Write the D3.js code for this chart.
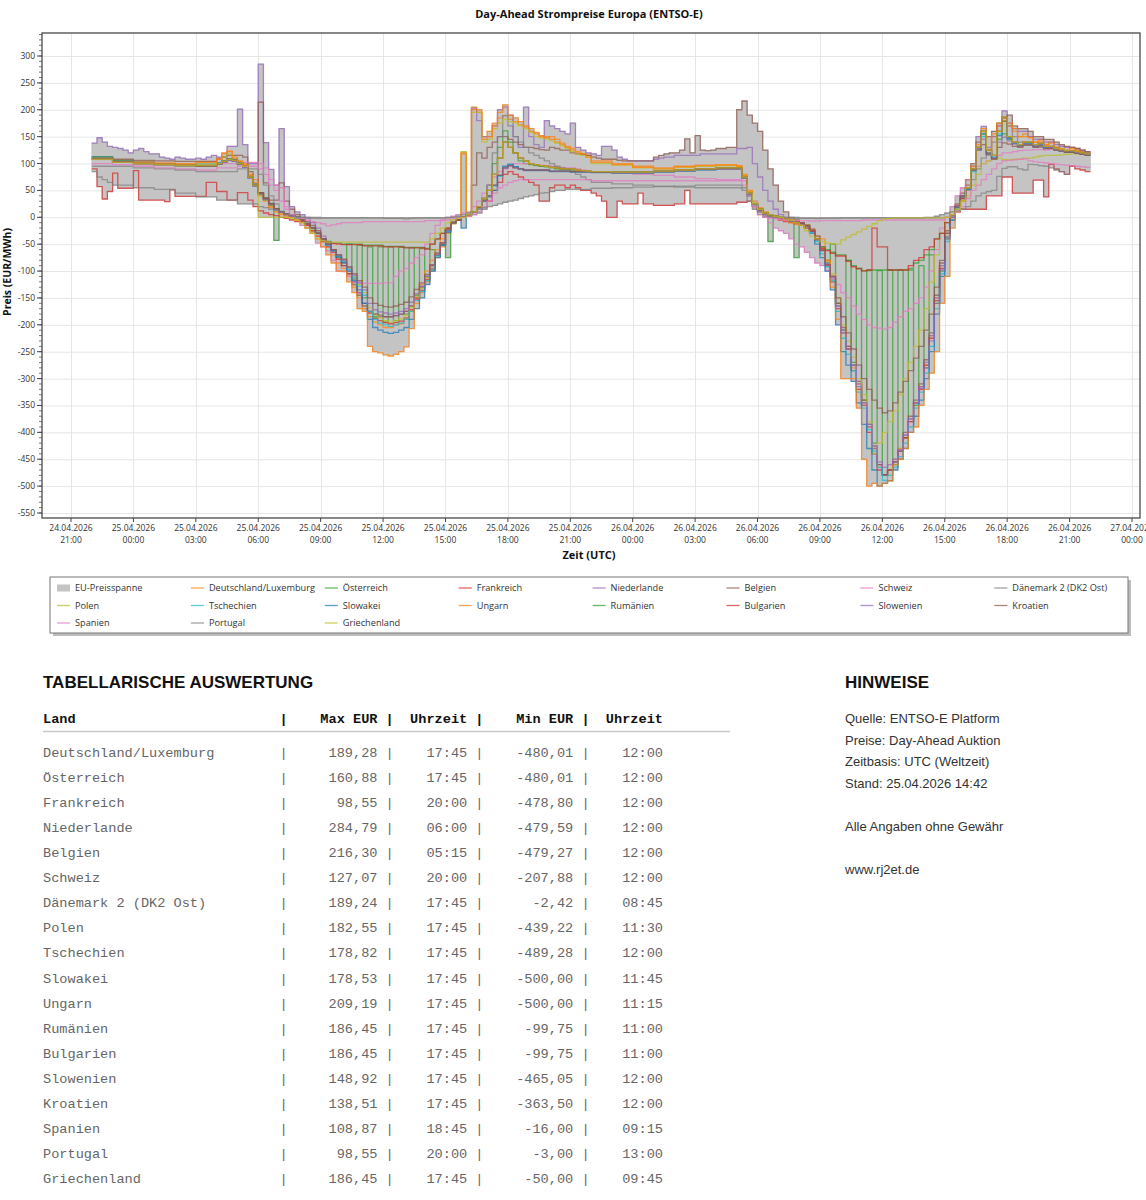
<!DOCTYPE html>
<html>
<head>
<meta charset="utf-8">
<script src="https://cdn.jsdelivr.net/npm/d3@7/dist/d3.min.js"></script>
<style>
html,body{margin:0;padding:0;background:#fff;}
.sans{font-family:"Open Sans","Noto Sans",sans-serif;}
.arial{font-family:"Liberation Sans",Arial,sans-serif;}
.mono{font-family:"Liberation Mono","Courier New",monospace;white-space:pre;}
</style>
</head>
<body>
<svg id="chart" width="1146" height="1200" xmlns="http://www.w3.org/2000/svg"></svg>
<script>
// ---------------- DATA ----------------
// Hourly values from 24.04.2026 22:00 UTC (48 hours); an inner array gives the four quarter-hour values.
const countries = ["Deutschland/Luxemburg","Österreich","Frankreich","Niederlande","Belgien","Schweiz","Dänemark 2 (DK2 Ost)","Polen","Tschechien","Slowakei","Ungarn","Rumänien","Bulgarien","Slowenien","Kroatien","Spanien","Portugal","Griechenland"];
const seriesColors = ["#ff7f0e","#2ca02c","#d62728","#9467bd","#8c564b","#e377c2","#7f7f7f","#bcbd22","#17becf","#1f77b4","#ff7f0e","#2ca02c","#d62728","#9467bd","#8c564b","#e377c2","#7f7f7f","#bcbd22"];

const DE = [112,105,103,101,100,103,[110,118,122,110],[105,100,80,70],[45,35,20,12],[8,5,2,-2],[-8,-15,-25,-35],[-45,-55,-70,-85],[-95,-110,-130,-150],[-170,-185,-195,-200],[-205,-205,-200,-198],[-190,-175,-160,-140],[-120,-100,-75,-55],[-30,-12,-5,120],[5,200,195,150],[160,175,185,189.28],[182,178,172,168],[160,155,152,150],[145,140,135,130],[125,120,118,115],105,100,95,92,95,97,98,[96,80,50,30],[18,10,5,2],[0,-5,-8,-10],[-12,-15,-22,-35],[-55,-80,-110,-160],[-210,-245,-280,-310],[-345,-390,-430,-465],[-480.01,-470,-450,-430],[-410,-380,-345,-315],[-275,-220,-150,-90],[-35,0,20,40],[60,90,130,160],[120,150,170,185],[170,160,150,155],[150,140,145,135],[140,130,128,125],[130,125,122,120]];
const AT = [113,106,102,100,98,99,[100,104,108,106],[100,95,75,60],[42,32,22,-43],[10,6,3,0],[-5,-12,-20,-30],[-40,-50,-60,-75],[-85,-50,-115,-52],[-150,-55,-185,-55],[-195,-55,-192,-56],[-180,-57,-145,-58],[-112,-60,-70,-50],[-75,-10,-5,0],[5,10,20,35],[60,100,130,160.88],[140,120,105,100],[98,96,95,94],[92,90,88,88],[87,86,85,85],85,84,84,86,88,90,92,[92,75,45,25],[15,8,-45,2],[0,-3,-5,-75],[-10,-15,-25,-40],[-60,-85,-50,-160],[-210,-80,-270,-95],[-340,-99,-420,-99],[-480.01,-98,-460,-98],[-410,-98,-350,-90],[-280,-70,-160,-100],[-40,0,20,40],[55,90,130,155],[120,110,145,155],[145,138,132,136],[136,132,134,130],[130,126,124,122],[122,120,118,116]];
const FR = [[90,57,34,48],[82,54,54,54],[87,32,32,32],[32,32,29,51],39,[39,39,65,65],[48,48,32,32],[46,46,32,20],[12,8,5,3],[0,-2,-5,-8],[-8,-15,-25,-35],[-45,-55,-65,-78],[-90,-105,-120,-140],[-160,-178,-188,-192],[-196,-198,-196,-193],[-187,-172,-152,-136],[-116,-96,-71,-51],[-25,-10,-5,0],[5,10,20,30],[30,50,65,80],[85,80,75,70],[65,60,30,30],[55,60,60,55],[60,55,50,50],[45,40,30,0],[0,30,25,25],[25,45,25,25],22,[25,25,50,25],25,25,[28,28,30,20],[10,5,2,0],[-5,-8,-10,-12],[-15,-20,-25,-40],[-60,-90,-120,-170],[-215,-245,-285,-320],[-350,-400,-440,-470],[-478.8,-470,-455,-435],[-410,-380,-345,-320],[-275,-225,-155,-95],[-30,0,10,15],15,[40,40,40,75],[75,45,45,45],[45,69,69,38],[98.55,90,85,80],[95,90,88,85]];
const NL = [[138,148,140,132],[130,128,125,120],[125,128,122,118],[118,112,110,108],[112,110,108,108],[110,108,112,115],[112,112,132,132],[201,135,100,100],[284.79,139,89,60],[165,57,20,10],[5,0,-10,-20],[-35,-50,-60,-70],[-85,-100,-120,-140],[-160,-175,-180,-185],[-185,-185,-183,-180],[-175,-165,-150,-130],[-110,-90,-70,-50],[-25,-10,-5,0],[5,203,180,150],[150,170,200,205],[190,150,130,205],[150,135,130,180],[170,165,160,155],[175,130,125,120],[118,115,132,132],[125,112,108,105],105,[108,110,112,112],115,[115,118,118,118],118,[128,128,130,100],[75,50,30,15],[5,0,-5,-8],[-12,-18,-25,-40],[-60,-85,-115,-165],[-210,-240,-275,-310],[-345,-390,-430,-460],[-479.59,-470,-455,-435],[-405,-375,-345,-315],[-270,-220,-150,-90],[-30,5,20,40],[60,95,150,169],[130,150,170,198],[175,165,160,160],[150,145,145,140],[140,135,132,130],[130,128,125,122]];
const BE = [110,108,106,105,104,104,[108,112,115,115],[115,112,85,60],[214,64,32,32],[64,30,15,5],[0,-8,-15,-25],[-40,-52,-62,-72],[-90,-105,-125,-145],[-165,-175,-180,-182],[-185,-185,-183,-180],[-175,-165,-150,-130],[-110,-90,-70,-50],[-25,-10,-5,0],[5,60,120,110],[130,140,150,150],[145,140,135,130],[130,128,126,125],[130,128,125,125],[120,118,117,115],[112,110,108,108],[108,106,105,105],105,[112,115,118,120],[120,125,146,120],[152,125,124,125],[128,128,130,130],[200,216.3,190,175],[160,125,90,60],[30,10,0,-5],[-10,-15,-22,-35],[-55,-80,-110,-160],[-205,-240,-275,-305],[-340,-385,-425,-460],[-479.27,-470,-455,-435],[-400,-370,-340,-310],[-265,-215,-145,-85],[-25,5,25,45],[70,100,140,160],[150,160,175,185],[190,170,165,165],[160,150,150,145],[145,140,135,132],[130,128,125,122]];
const CH = [108,102,100,98,97,97,100,102,[100,92,70,60],[55,20,5,-5],[-15,-20,-30,-48],[-55,-62,-80,-100],[-101,-110,-120,-122],-123,[-122,-122,-110,-100],[-95,-85,-75,-70],[-50,-30,-15,-5],[0,2,5,8],[10,20,30,45],[60,75,85,90],[95,100,100,100],[100,98,97,95],[95,94,93,92],[92,90,88,86],85,82,80,78,75,72,70,[70,68,40,30],[10,0,-10,-20],[-25,-30,-40,-50],[-55,-65,-75,-85],[-90,-100,-110,-125],[-140,-150,-165,-180],[-190,-200,-205,-206],[-207.88,-205,-195,-185],[-175,-170,-160,-150],[-130,-100,-60,-20],[0,20,40,55],[70,90,95,100],[105,110,115,120],[120,122,124,125],[125,126,126,125],[127.07,125,124,123],[122,121,120,119]];
const DK2 = [95,95,92,90,88,85,85,90,[80,60,40,25],[10,5,2,0],[-1,-2,-2,-2],-1,-1,-1,-1,-1,-1,[-1,0,0,1],[3,5,8,15],[60,120,150,189.24],[170,150,140,130],[120,115,110,105],[100,95,92,90],[85,80,75,70],65,62,60,58,56,55,55,[55,50,30,15],[5,2,0,-1],[-1,-2,-2,-2],[-2,-2,-2,-2.42],-2,-1,-1,-1,-1,-1,[0,5,15,30],[50,70,90,110],[120,140,160,180],[170,150,140,135],[135,130,130,128],[128,126,125,124],[124,122,121,120]];
const PL = [110,104,101,99,97,97,[101,112,118,108],[102,97,77,62],[46,36,26,16],[10,6,3,0],[-5,-12,-20,-30],[-40,-50,-60,-70],[-80,-95,-110,-125],[-140,-168,-182,-187],[-192,-195,-192,-189],[-182,-167,-147,-132],[-112,-92,-68,-48],[-24,-9,-4,122],[2,195,195,140],[145,165,175,182.55],[178,175,170,165],[158,150,148,146],[142,138,133,128],[122,118,115,112],100,97,92,90,93,95,96,[94,78,48,28],[16,9,5,2],[0,-3,-5,-8],[-10,-15,-25,-40],[-58,-82,-105,-150],[-200,-230,-260,-300],[-330,-380,-439.22,-420],[-400,-380,-360,-330],[-300,-270,-240,-210],[-170,-120,-70,-30],[0,10,20,30],[40,60,80,100],[105,108,110,107],[107,108,108,110],[110,112,114,115],[115,115,116,117],[118,118,118,118]];
const CZ = [111,104,101,99,96,95,[99,103,107,105],[99,94,74,58],[44,34,24,14],[9,5,2,-1],[-6,-13,-21,-31],[-42,-52,-62,-72],[-82,-97,-112,-128],[-145,-175,-190,-197],[-200,-203,-200,-197],[-190,-175,-155,-138],[-118,-98,-72,-52],[-26,-11,-5,0],[4,9,18,30],[40,58,76,92],[98,94,90,88],88,86,85,84,83,83,85,87,89,91,[91,74,44,24],[14,7,4,1],[-1,-4,-6,-9],[-11,-17,-28,-45],[-68,-92,-118,-175],[-225,-255,-285,-325],[-355,-395,-435,-465],[-489.28,-480,-465,-445],[-420,-390,-355,-325],[-290,-240,-170,-105],[-45,-5,18,38],[52,85,125,150],[118,112,155,178.82],[148,138,135,138],[138,133,136,130],[130,126,124,122],[122,120,118,116]];
const SK = [112,105,102,100,97,96,[101,105,109,107],[101,96,76,62],[46,36,26,16],[11,7,4,1],[-4,-11,-19,-29],[-40,-50,-62,-74],[-84,-100,-118,-135],[-160,-190,-205,-210],[-214,-216,-214,-210],[-205,-190,-170,-150],[-125,-100,-75,-52],[-28,-10,-5,-20],[4,10,18,32],[38,50,78,95],[99,94,90,87],87,85,84,83,82,82,84,86,88,90,[90,73,43,23],[13,7,4,1],[-1,-4,-7,-10],[-12,-18,-30,-50],[-75,-100,-135,-200],[-250,-275,-305,-345],[-385,-430,-470,-500],[-495,-490,-470,-450],[-430,-400,-370,-340],[-300,-250,-180,-110],[-37,-5,18,38],[52,88,128,155],[118,110,152,178.53],[147,138,134,138],[138,132,136,130],[130,126,123,121],[121,119,117,115]];
const HU = [110,104,102,100,99,102,[108,120,123,112],[104,98,78,65],[40,30,18,10],[5,2,0,-5],[-10,-20,-30,-40],[-55,-70,-85,-100],[-100,-120,-140,-170],[-175,-240,-250,-252],[-256,-258,-255,-250],[-241,-207,-150,-125],[-100,-80,-60,-40],[-20,-10,-5,118],[2,205,200,145],[150,170,195,209.19],[190,185,178,170],[165,158,150,148],[150,145,138,132],[128,122,118,112],102,98,93,90,94,96,97,[95,78,48,25],[15,8,3,0],[-2,-6,-10,-12],[-15,-18,-25,-40],[-40,-80,-130,-190],[-300,-300,-300,-355],[-450,-500,-495,-500],[-495,-490,-460,-450],[-430,-400,-390,-350],[-320,-290,-250,-160],[-110,-20,10,30],[55,95,135,165],[125,155,175,180],[175,165,150,150],[148,140,142,135],[138,130,126,124],[128,124,120,118]];
const RO = [108,102,100,98,96,96,[100,104,108,106],[100,95,75,60],[45,35,25,15],[10,6,3,0],[-5,-12,-20,-30],[-40,-45,-48,-48],-50,-52,-54,-56,[-58,-50,-40,-30],[-20,-10,-5,0],[5,10,20,35],[50,80,110,140],[130,120,110,105],[100,98,96,95],[93,92,90,90],[90,88,87,86],85,84,84,86,88,90,92,[92,75,45,25],[15,8,5,2],[0,-3,-5,-8],[-10,-15,-25,-40],[-55,-60,-65,-70],[-70,-80,-90,-95],[-99.75,-98,-98,-98],-98,[-98,-95,-85,-80],[-70,-60,-40,-30],[-10,5,20,35],[55,90,130,160],[125,115,160,186.45],[150,140,135,140],[140,135,138,132],[132,128,126,124],[124,122,120,118]];
const BG = [108,102,100,98,96,96,[100,104,108,106],[100,95,75,60],[45,35,25,15],[10,6,3,0],[-5,-12,-20,-30],[-40,-46,-49,-50],-51,-53,-55,-57,[-59,-50,-40,-30],[-20,-10,-5,0],[5,10,20,35],[50,80,110,140],[130,120,110,105],[100,98,96,95],[93,92,90,90],[90,88,87,86],85,84,84,86,88,90,92,[92,75,45,25],[15,8,5,2],[0,-3,-5,-8],[-10,-15,-25,-40],[-58,-62,-67,-72],[-72,-82,-92,-96],[-99.75,-98,-20,-55],[-55,-98,-98,-98],[-98,-90,-80,-75],[-60,-55,-40,-30],[-10,5,20,35],[55,90,130,160],[125,115,160,186.45],[150,140,135,140],[140,135,138,132],[132,128,126,124],[124,122,120,118]];
const SI = [108,102,100,98,96,95,[99,102,106,104],[98,93,73,58],[44,34,24,14],[9,5,2,-1],[-5,-12,-20,-30],[-40,-50,-60,-70],[-80,-94,-108,-122],[-135,-160,-172,-176],[-178,-180,-178,-175],[-170,-158,-142,-128],[-110,-90,-68,-48],[-24,-9,-4,0],[4,9,18,30],[40,60,78,92],[96,92,90,88],88,86,85,84,83,83,85,87,89,90,[90,74,44,24],[14,7,4,1],[-1,-4,-6,-9],[-11,-16,-26,-42],[-62,-88,-112,-165],[-215,-245,-275,-315],[-345,-385,-425,-455],[-465.05,-460,-450,-432],[-405,-375,-345,-318],[-280,-230,-160,-98],[-40,0,20,40],[55,88,128,145],[118,110,140,148.92],[142,136,132,136],[136,132,134,130],[130,126,124,122],[122,120,118,116]];
const HR = [109,103,100,98,96,95,[99,103,107,105],[99,94,74,59],[45,35,25,15],[10,6,3,0],[-5,-12,-20,-30],[-40,-50,-60,-70],[-78,-92,-105,-118],[-130,-150,-160,-164],[-166,-167,-165,-162],[-158,-148,-134,-122],[-106,-88,-66,-47],[-23,-9,-4,0],[4,9,18,30],[40,60,78,92],[96,92,90,88],88,86,85,84,83,83,85,87,89,90,[90,74,44,24],[14,7,4,1],[-1,-4,-6,-9],[-11,-16,-26,-42],[-62,-88,-110,-150],[-185,-215,-245,-275],[-300,-320,-340,-355],[-363.5,-360,-345,-325],[-305,-285,-262,-240],[-210,-180,-130,-80],[-30,5,22,40],[55,88,125,135],[116,108,130,138.51],[136,132,130,134],[134,130,132,128],[128,125,123,121],[121,119,117,115]];
const ES = [100,98,95,92,90,88,92,95,[90,80,60,50],[30,15,5,0],[-2,-5,-8,-10],[-12,-16,-14,-12],-10,-8,-8,-8,-6,[-5,-3,-2,0],[2,5,10,20],[30,45,55,60],[65,68,70,70],70,70,70,68,68,68,68,68,68,68,[68,60,40,20],[5,0,-2,-3],[-4,-5,-5,-6],[-6,-6,-7,-7],-6,-6,-5,-5,-5,-5,[0,5,10,20],[35,50,60,70],[80,90,100,105],[106,107,108,108.87],[105,103,102,101],[100,99,98,97],[96,95,94,93]];
const PT = [[85,75,70,65],60,55,52,45,38,32,25,[20,18,15,14],[10,5,2,0],0,-1,-1,-1,-2,[-3,-2,-1,-1],-1,[0,0,2,5],[8,10,15,18],[20,22,25,28],[30,32,35,38],[40,42,45,46],[48,50,50,52],52,54,55,56,57,58,60,60,[60,55,40,25],[10,5,2,0],0,-1,-1,-1,-1,-1,-1,[0,0,2,5],[8,10,12,15],[20,30,40,45],[48,50,76,91],[94,94,90,88],[98.55,98,96,95],[92,88,85,80]];
const GR = [108,102,100,98,96,96,[100,104,108,106],[100,95,75,60],0,[0,0,-2,-5],[-10,-20,-30,-40],[-44,-46,-46,-46],-46,-46,-46,-46,[-46,-40,-30,-20],[-10,-5,-2,0],[5,10,20,35],[50,80,110,140],[130,120,110,105],[100,98,96,95],[93,92,90,90],[90,88,87,86],85,84,84,86,88,90,92,[92,75,45,25],[15,8,5,2],[0,-3,-5,-10],[-15,-25,-35,-40],[-45,-48,-49,-50],[-42,-37,-32,-27],[-22,-17,-12,-6],[-3,-2,-1,-1],-1,-1,[0,5,15,30],[55,90,130,160],[125,115,160,186.45],[150,140,135,140],[140,135,138,132],[132,128,126,124],[124,122,120,118]];

const seriesValues = [DE, AT, FR, NL, BE, CH, DK2, PL, CZ, SK, HU, RO, BG, SI, HR, ES, PT, GR];

const yTickValues = [-550,-500,-450,-400,-350,-300,-250,-200,-150,-100,-50,0,50,100,150,200,250,300];

// Table
const tableMax = [189.28,160.88,98.55,284.79,216.30,127.07,189.24,182.55,178.82,178.53,209.19,186.45,186.45,148.92,138.51,108.87,98.55,186.45];
const tableMaxTime = ["17:45","17:45","20:00","06:00","05:15","20:00","17:45","17:45","17:45","17:45","17:45","17:45","17:45","17:45","17:45","18:45","20:00","17:45"];
const tableMin = [-480.01,-480.01,-478.80,-479.59,-479.27,-207.88,-2.42,-439.22,-489.28,-500.00,-500.00,-99.75,-99.75,-465.05,-363.50,-16.00,-3.00,-50.00];
const tableMinTime = ["12:00","12:00","12:00","12:00","12:00","12:00","08:45","11:30","12:00","11:45","11:15","11:00","11:00","12:00","12:00","09:15","13:00","09:45"];

const notes = ["Quelle: ENTSO-E Platform","Preise: Day-Ahead Auktion","Zeitbasis: UTC (Weltzeit)","Stand: 25.04.2026 14:42","","Alle Angaben ohne Gewähr","","www.rj2et.de"];

// ---------------- BUILD ----------------
const H = 3600e3, Q = 900e3;
const T0 = Date.UTC(2026,3,24,22,0);
function expand(arr){
  const out=[];
  arr.forEach(v=>{ if(Array.isArray(v)) out.push(...v); else out.push(v,v,v,v); });
  return out;
}
const expanded = seriesValues.map(expand);
const NQ = 192;
expanded.forEach((a,i)=>{ if(a.length!==NQ) console.error("length", countries[i], a.length); });

const svg = d3.select("#chart");
svg.append("rect").attr("width",1146).attr("height",1200).attr("fill","#fff");

const L=42, R=1140, T=33, B=518;
const x = d3.scaleUtc()
  .domain([new Date(Date.UTC(2026,3,24,21) - 1.394*H), new Date(Date.UTC(2026,3,27,0) + 0.385*H)])
  .range([L,R]);
const y = d3.scaleLinear().domain([-559.3, 342.8]).range([B,T]);

// title
svg.append("text").attr("class","sans").attr("x",589).attr("y",18).attr("text-anchor","middle")
  .attr("font-size",11).attr("font-weight","bold").attr("fill","#111")
  .text("Day-Ahead Strompreise Europa (ENTSO-E)");

// grid
const xTicks = d3.range(18).map(i=>new Date(Date.UTC(2026,3,24,21) + i*3*H));
const grid = svg.append("g");
grid.selectAll("line.h").data(yTickValues).join("line")
  .attr("x1",L).attr("x2",R).attr("y1",d=>y(d)+0.5).attr("y2",d=>y(d)+0.5)
  .attr("stroke","#e6e6e6").attr("stroke-width",1);
grid.selectAll("line.v").data(xTicks).join("line")
  .attr("x1",d=>Math.round(x(d))+0.5).attr("x2",d=>Math.round(x(d))+0.5).attr("y1",T).attr("y2",B)
  .attr("stroke","#e6e6e6").attr("stroke-width",1);

// clip
svg.append("defs").append("clipPath").attr("id","plotclip")
  .append("rect").attr("x",L).attr("y",T).attr("width",R-L).attr("height",B-T);
const plot = svg.append("g").attr("clip-path","url(#plotclip)");

// band (min/max over all countries per quarter hour)
const times = d3.range(NQ+1).map(i=>new Date(T0 + i*Q));
const band = times.map((t,i)=>{
  const k = Math.min(i,NQ-1);
  const vals = expanded.map(a=>a[k]);
  return {t, lo:d3.min(vals), hi:d3.max(vals)};
});
plot.append("path").datum(band)
  .attr("d", d3.area().x(d=>x(d.t)).y0(d=>y(d.lo)).y1(d=>y(d.hi)).curve(d3.curveStepAfter))
  .attr("fill","#c4c4c4").attr("stroke","#b4b4b4").attr("stroke-width",0.6);

// lines
const lineGen = d3.line().x(d=>x(d.t)).y(d=>y(d.v)).curve(d3.curveStepAfter);
expanded.forEach((a,si)=>{
  const pts = times.map((t,i)=>({t, v:a[Math.min(i,NQ-1)]}));
  plot.append("path").datum(pts).attr("d",lineGen)
    .attr("fill","none").attr("stroke",seriesColors[si]).attr("stroke-opacity",0.72)
    .attr("stroke-width",1.3);
});

// frame
svg.append("rect").attr("x",L).attr("y",T).attr("width",R-L).attr("height",B-T)
  .attr("fill","none").attr("stroke","#4a4a4a").attr("stroke-width",1.3);

// y axis ticks
const yAx = svg.append("g");
const minorY = d3.range(-550, 341, 10);
yAx.selectAll("line.mi").data(minorY).join("line")
  .attr("x1",L-3).attr("x2",L).attr("y1",d=>y(d)).attr("y2",d=>y(d)).attr("stroke","#555").attr("stroke-width",0.8);
yAx.selectAll("line.ma").data(yTickValues).join("line")
  .attr("x1",L-5).attr("x2",L).attr("y1",d=>y(d)).attr("y2",d=>y(d)).attr("stroke","#444").attr("stroke-width",1);
yAx.selectAll("text").data(yTickValues).join("text").attr("class","sans")
  .attr("x",L-7).attr("y",d=>y(d)+3).attr("text-anchor","end").attr("font-size",8.5).attr("fill","#333")
  .text(d=>String(d));

// x axis ticks
const xAx = svg.append("g");
const fDate = d3.utcFormat("%d.%m.%Y"), fTime = d3.utcFormat("%H:%M");
xAx.selectAll("line").data(xTicks).join("line")
  .attr("x1",d=>x(d)).attr("x2",d=>x(d)).attr("y1",B).attr("y2",B+4).attr("stroke","#444");
const xt = xAx.selectAll("text").data(xTicks).join("text").attr("class","sans")
  .attr("text-anchor","middle").attr("font-size",8.5).attr("fill","#333");
xt.append("tspan").attr("x",d=>x(d)).attr("y",530.5).text(d=>fDate(d));
xt.append("tspan").attr("x",d=>x(d)).attr("y",542.5).text(d=>fTime(d));

// axis titles
svg.append("text").attr("class","sans").attr("x",589).attr("y",559).attr("text-anchor","middle")
  .attr("font-size",11).attr("font-weight","bold").attr("fill","#111").text("Zeit (UTC)");
svg.append("text").attr("class","sans").attr("transform","translate(11,272) rotate(-90)").attr("text-anchor","middle")
  .attr("font-size",10.5).attr("font-weight","bold").attr("fill","#111").text("Preis (EUR/MWh)");

// legend
const lg = svg.append("g");
lg.append("rect").attr("x",53).attr("y",580).attr("width",1078).attr("height",56).attr("fill","#bdbdbd");
lg.append("rect").attr("x",50).attr("y",577).attr("width",1078).attr("height",56).attr("fill","#fff").attr("stroke","#777").attr("stroke-width",1);
const legendItems = ["EU-Preisspanne", ...countries];
legendItems.forEach((name,i)=>{
  const c = i%8, r = Math.floor(i/8);
  const x0 = 57 + c*133.9, yc = 588 + r*17.5;
  if(i===0){
    lg.append("rect").attr("x",x0).attr("y",yc-3.5).attr("width",13).attr("height",7).attr("fill","#c4c4c4");
  } else {
    lg.append("line").attr("x1",x0).attr("x2",x0+13).attr("y1",yc).attr("y2",yc)
      .attr("stroke",seriesColors[i-1]).attr("stroke-opacity",0.72).attr("stroke-width",1.3);
  }
  lg.append("text").attr("class","sans").attr("x",x0+18).attr("y",yc+3.2).attr("font-size",9.2).attr("fill","#333").text(name);
});

// table
const tb = svg.append("g");
tb.append("text").attr("class","arial").attr("x",43).attr("y",688).attr("font-size",17).attr("font-weight","bold").attr("fill","#111")
  .text("TABELLARISCHE AUSWERTUNG");
const fmt = v => v.toFixed(2).replace(".",",");
const header = "Land".padEnd(28)+" | "+"Max EUR".padStart(10)+" | "+"Uhrzeit".padStart(8)+" | "+"Min EUR".padStart(10)+" | "+"Uhrzeit".padStart(8);
tb.append("text").attr("class","mono").attr("x",43).attr("y",723).attr("font-size",13.6).attr("font-weight","bold").attr("fill","#111").text(header);
tb.append("line").attr("x1",43).attr("x2",730).attr("y1",731.5).attr("y2",731.5).attr("stroke","#c8c8c8").attr("stroke-width",1.5);
countries.forEach((n,i)=>{
  const s = n.padEnd(28)+" | "+fmt(tableMax[i]).padStart(10)+" | "+tableMaxTime[i].padStart(8)+" | "+fmt(tableMin[i]).padStart(10)+" | "+tableMinTime[i].padStart(8);
  tb.append("text").attr("class","mono").attr("x",43).attr("y",757+i*25.06).attr("font-size",13.6).attr("fill","#666").text(s);
});

// notes
const nt = svg.append("g");
nt.append("text").attr("class","arial").attr("x",845).attr("y",688).attr("font-size",17).attr("font-weight","bold").attr("fill","#111").text("HINWEISE");
notes.forEach((s,i)=>{
  if(!s) return;
  nt.append("text").attr("class","arial").attr("x",845).attr("y",723+i*21.6).attr("font-size",13).attr("fill","#333").text(s);
});
</script>
</body>
</html>
